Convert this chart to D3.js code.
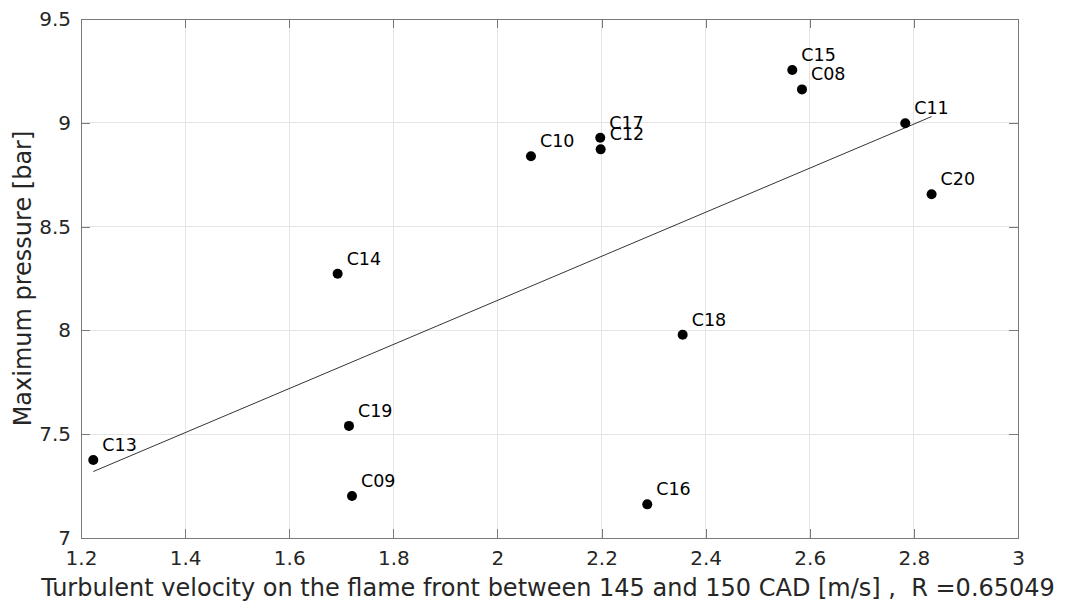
<!DOCTYPE html>
<html>
<head>
<meta charset="utf-8">
<script src="https://cdn.jsdelivr.net/npm/d3@7"></script>
<style>
  html, body { margin: 0; padding: 0; background: #fff; }
  svg { display: block; font-family: "DejaVu Sans", sans-serif; }
</style>
</head>
<body>
<svg id="chart" width="1065" height="603"></svg>
<script>
// Case labels with turbulent velocity [m/s] and maximum pressure [bar]
const cases     = ["C13", "C19", "C09", "C14", "C10", "C17", "C12", "C16", "C18", "C15", "C08", "C11", "C20"];
const velocity  = [1.2236, 1.7148, 1.7206, 1.6930, 2.0644, 2.1975, 2.1983, 2.2878, 2.3558, 2.5664, 2.5850, 2.7834, 2.8340];
const pressure  = [7.376, 7.540, 7.202, 8.273, 8.839, 8.928, 8.872, 7.162, 7.979, 9.254, 9.161, 8.998, 8.656];

const xTicks = [1.2, 1.4, 1.6, 1.8, 2, 2.2, 2.4, 2.6, 2.8, 3];
const yTicks = [7, 7.5, 8, 8.5, 9, 9.5];
const rValue = "0.65049";

const svg = d3.select("#chart");
const m = { left: 81, right: 1018, top: 19, bottom: 538 };

const x = d3.scaleLinear().domain([1.2, 3]).range([m.left, m.right]);
const y = d3.scaleLinear().domain([7, 9.5]).range([m.bottom, m.top]);

const textColor = "#262626";
const axisColor = "#7a7a7a";

// grid
const grid = svg.append("g");
grid.selectAll(".gx").data(xTicks.slice(1, -1)).join("line")
  .attr("x1", d => x(d)).attr("x2", d => x(d))
  .attr("y1", m.top).attr("y2", m.bottom)
  .attr("stroke", "#e5e5e5").attr("stroke-width", 1).attr("shape-rendering", "crispEdges");
grid.selectAll(".gy").data(yTicks.slice(1, -1)).join("line")
  .attr("x1", m.left).attr("x2", m.right)
  .attr("y1", d => y(d)).attr("y2", d => y(d))
  .attr("stroke", "#e5e5e5").attr("stroke-width", 1).attr("shape-rendering", "crispEdges");

// box axes with inward ticks on all four sides
const tickLen = 9;
const axisBottom = d3.axisBottom(x).tickValues(xTicks).tickSize(-tickLen).tickPadding(14).tickFormat(d3.format("~g"));
const axisTop = d3.axisTop(x).tickValues(xTicks).tickSize(-tickLen).tickFormat("");
const axisLeft = d3.axisLeft(y).tickValues(yTicks).tickSize(-tickLen).tickPadding(10).tickFormat(d3.format("~g"));
const axisRight = d3.axisRight(y).tickValues(yTicks).tickSize(-tickLen).tickFormat("");

function styleAxis(g) {
  g.select(".domain").attr("stroke", axisColor).attr("shape-rendering", "crispEdges");
  g.selectAll(".tick line").attr("stroke", axisColor).attr("shape-rendering", "crispEdges");
  g.selectAll(".tick text").attr("fill", textColor).attr("font-size", 20)
    .attr("font-family", "DejaVu Sans, sans-serif");
}

svg.append("g").attr("transform", `translate(0,${m.bottom})`).call(axisBottom).call(styleAxis)
  .call(g => g.selectAll(".tick text").attr("dy", "0.71em").attr("y", 13));
svg.append("g").attr("transform", `translate(0,${m.top})`).call(axisTop).call(styleAxis);
svg.append("g").attr("transform", `translate(${m.left},0)`).call(axisLeft).call(styleAxis);
svg.append("g").attr("transform", `translate(${m.right},0)`).call(axisRight).call(styleAxis);

// least-squares trend line over the data range
const n = velocity.length;
const mx = d3.mean(velocity), my = d3.mean(pressure);
let sxy = 0, sxx = 0;
for (let i = 0; i < n; i++) {
  sxy += (velocity[i] - mx) * (pressure[i] - my);
  sxx += (velocity[i] - mx) ** 2;
}
const slope = sxy / sxx, intercept = my - slope * mx;
const xMin = d3.min(velocity), xMax = d3.max(velocity);
svg.append("line")
  .attr("x1", x(xMin)).attr("y1", y(intercept + slope * xMin))
  .attr("x2", x(xMax)).attr("y2", y(intercept + slope * xMax))
  .attr("stroke", "#000").attr("stroke-width", 0.8);

// points and case labels
const pts = cases.map((c, i) => ({ c, v: velocity[i], p: pressure[i] }));
svg.append("g").selectAll("circle").data(pts).join("circle")
  .attr("cx", d => x(d.v)).attr("cy", d => y(d.p)).attr("r", 5).attr("fill", "#000");
svg.append("g").selectAll("text").data(pts).join("text")
  .attr("x", d => x(d.v) + 9).attr("y", d => y(d.p) - 9)
  .attr("font-size", 17.5).attr("fill", "#000").text(d => d.c);

// axis titles
svg.append("text")
  .attr("x", 548).attr("y", 596)
  .attr("text-anchor", "middle").attr("font-size", 24).attr("fill", textColor)
  .attr("xml:space", "preserve")
  .text("Turbulent velocity on the flame front between 145 and 150 CAD [m/s] ,  R =" + rValue);
svg.append("text")
  .attr("transform", `translate(31,${(m.top + m.bottom) / 2}) rotate(-90)`)
  .attr("text-anchor", "middle").attr("font-size", 24).attr("fill", textColor)
  .text("Maximum pressure [bar]");
</script>
</body>
</html>
